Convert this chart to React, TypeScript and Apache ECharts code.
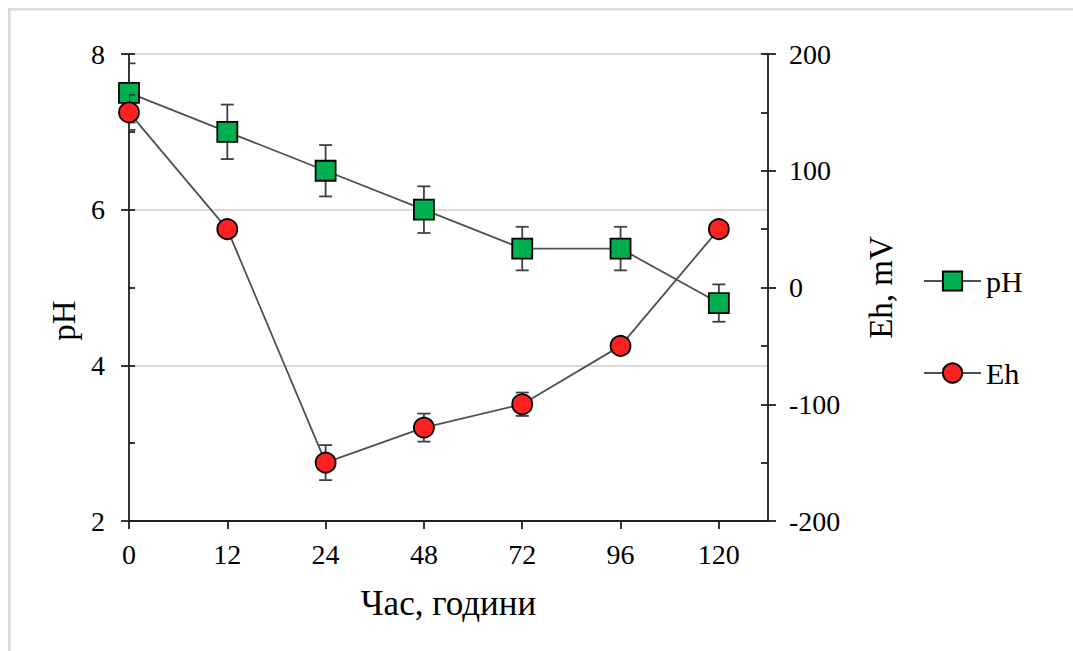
import React, { useEffect, useRef } from "react";
import * as echarts from "echarts";

const categories = ["0", "12", "24", "48", "72", "96", "120"];
const phValues = [7.5, 7.0, 6.5, 6.0, 5.5, 5.5, 4.8];
const phErrors = [0.38, 0.35, 0.33, 0.3, 0.28, 0.28, 0.24];
const ehValues = [150, 50, -150, -120, -100, -50, 50];
const ehErrors = [15, 5, 15, 12, 10, 5, 5];
const phTicks = [2, 4, 6, 8];
const ehTicks = [-200, -100, 0, 100, 200];

const FONT = "'Liberation Serif', 'Times New Roman', serif";
const AXIS_COLOR = "#1f1f1f";

function errData(vals: number[], errs: number[]) {
  return vals.map((v, i) => [i, v - errs[i], v + errs[i]]);
}

function errRender(params: any, api: any) {
  const x = api.value(0);
  const lo = api.coord([x, api.value(1)]);
  const hi = api.coord([x, api.value(2)]);
  const cap = 6.5;
  const style = { stroke: "#404040", lineWidth: 1.8 };
  return {
    type: "group",
    children: [
      { type: "line", shape: { x1: lo[0], y1: lo[1], x2: hi[0], y2: hi[1] }, style },
      { type: "line", shape: { x1: lo[0] - cap, y1: lo[1], x2: lo[0] + cap, y2: lo[1] }, style },
      { type: "line", shape: { x1: hi[0] - cap, y1: hi[1], x2: hi[0] + cap, y2: hi[1] }, style },
    ],
  };
}

export default function App() {
  const ref = useRef<HTMLDivElement>(null);
  useEffect(() => {
    const chart = echarts.init(ref.current!, null, { renderer: "svg" });
    const idx = categories.map((_, i) => i);
    const textStyle = { fontFamily: FONT, color: "#000", fontSize: 28 };
    const legendCommon = {
      orient: "vertical",
      left: 918,
      itemWidth: 57,
      itemHeight: 24,
      textStyle: { fontFamily: FONT, color: "#000", fontSize: 30, lineHeight: 30 },
      selectedMode: false,
    };
    chart.setOption({
      animation: false,
      backgroundColor: "#fff",
      textStyle: { fontFamily: FONT },
      grid: { left: 129, right: 305, top: 54, bottom: 130, containLabel: false },
      graphic: [
        { type: "rect", shape: { x: 8, y: 8, width: 1065, height: 2.5 }, style: { fill: "#d9d9d9" } },
        { type: "rect", shape: { x: 8, y: 8, width: 2.5, height: 643 }, style: { fill: "#d9d9d9" } },
      ],
      legend: [
        { ...legendCommon, top: 261, data: ["pH"] },
        { ...legendCommon, top: 353, data: ["Eh"] },
      ],
      xAxis: {
        type: "value",
        min: 0,
        max: 6.5,
        interval: 1,
        name: "Час, години",
        nameLocation: "middle",
        nameGap: 65,
        nameTextStyle: { fontFamily: FONT, color: "#000", fontSize: 35 },
        axisLine: { show: true, onZero: false, lineStyle: { color: AXIS_COLOR, width: 1.8 } },
        axisTick: { show: true, length: 8, customValues: idx, lineStyle: { color: AXIS_COLOR, width: 1.8 } },
        axisLabel: {
          ...textStyle,
          margin: 19,
          customValues: idx,
          formatter: (v: number) => categories[Math.round(v)] ?? "",
        },
        splitLine: { show: false },
      },
      yAxis: [
        {
          type: "value",
          position: "left",
          min: phTicks[0],
          max: phTicks[phTicks.length - 1],
          interval: 2,
          name: "pH",
          nameLocation: "middle",
          nameGap: 46,
          nameRotate: 90,
          nameTextStyle: { fontFamily: FONT, color: "#000", fontSize: 33, padding: [0, 66, 0, 0] },
          axisLine: { show: true, onZero: false, lineStyle: { color: AXIS_COLOR, width: 1.8 } },
          axisTick: { show: true, inside: true, length: 6, lineStyle: { color: AXIS_COLOR, width: 1.8 } },
          minorTick: { show: true, splitNumber: 2, length: 6, lineStyle: { color: AXIS_COLOR, width: 1.8 } },
          axisLabel: { ...textStyle, margin: 24 },
          splitLine: { show: true, lineStyle: { color: "#d9d9d9", width: 2 } },
        },
        {
          type: "value",
          position: "right",
          min: ehTicks[0],
          max: ehTicks[ehTicks.length - 1],
          interval: 100,
          name: "Eh, mV",
          nameLocation: "middle",
          nameGap: 96,
          nameRotate: 90,
          nameTextStyle: { fontFamily: FONT, color: "#000", fontSize: 33 },
          axisLine: { show: true, onZero: false, lineStyle: { color: AXIS_COLOR, width: 1.8 } },
          axisTick: { show: true, inside: true, length: 7, lineStyle: { color: AXIS_COLOR, width: 1.8 } },
          minorTick: { show: true, splitNumber: 2, length: 7, lineStyle: { color: AXIS_COLOR, width: 1.8 } },
          axisLabel: { ...textStyle, margin: 21 },
          splitLine: { show: false },
        },
        {
          type: "value",
          position: "left",
          min: phTicks[0],
          max: phTicks[phTicks.length - 1],
          interval: 2,
          axisLine: { show: false, onZero: false },
          axisTick: { show: true, inside: false, length: 8, lineStyle: { color: AXIS_COLOR, width: 1.8 } },
          axisLabel: { show: false },
          splitLine: { show: false },
        },
        {
          type: "value",
          position: "right",
          min: ehTicks[0],
          max: ehTicks[ehTicks.length - 1],
          interval: 100,
          axisLine: { show: false, onZero: false },
          axisTick: { show: true, inside: false, length: 8, lineStyle: { color: AXIS_COLOR, width: 1.8 } },
          axisLabel: { show: false },
          splitLine: { show: false },
        },
      ],
      series: [
        {
          type: "custom",
          name: "pH err",
          yAxisIndex: 0,
          z: 1,
          clip: true,
          renderItem: errRender,
          data: errData(phValues, phErrors),
          silent: true,
        },
        {
          type: "line",
          name: "pH",
          yAxisIndex: 0,
          z: 2,
          data: phValues.map((v, i) => [i, v]),
          symbol: "rect",
          symbolSize: 20,
          lineStyle: { color: "#505050", width: 1.8 },
          itemStyle: { color: "#00b050", borderColor: "#000", borderWidth: 1.8 },
        },
        {
          type: "custom",
          name: "Eh err",
          yAxisIndex: 1,
          z: 3,
          clip: true,
          renderItem: errRender,
          data: errData(ehValues, ehErrors),
          silent: true,
        },
        {
          type: "line",
          name: "Eh",
          yAxisIndex: 1,
          z: 4,
          data: ehValues.map((v, i) => [i, v]),
          symbol: "circle",
          symbolSize: 20,
          lineStyle: { color: "#505050", width: 1.8 },
          itemStyle: { color: "#ff2020", borderColor: "#000", borderWidth: 1.8 },
        },
      ],
    });
    return () => chart.dispose();
  }, []);
  return (
    <div
      ref={ref}
      style={{ position: "absolute", left: 0, top: 0, width: 1073, height: 651 }}
    />
  );
}
